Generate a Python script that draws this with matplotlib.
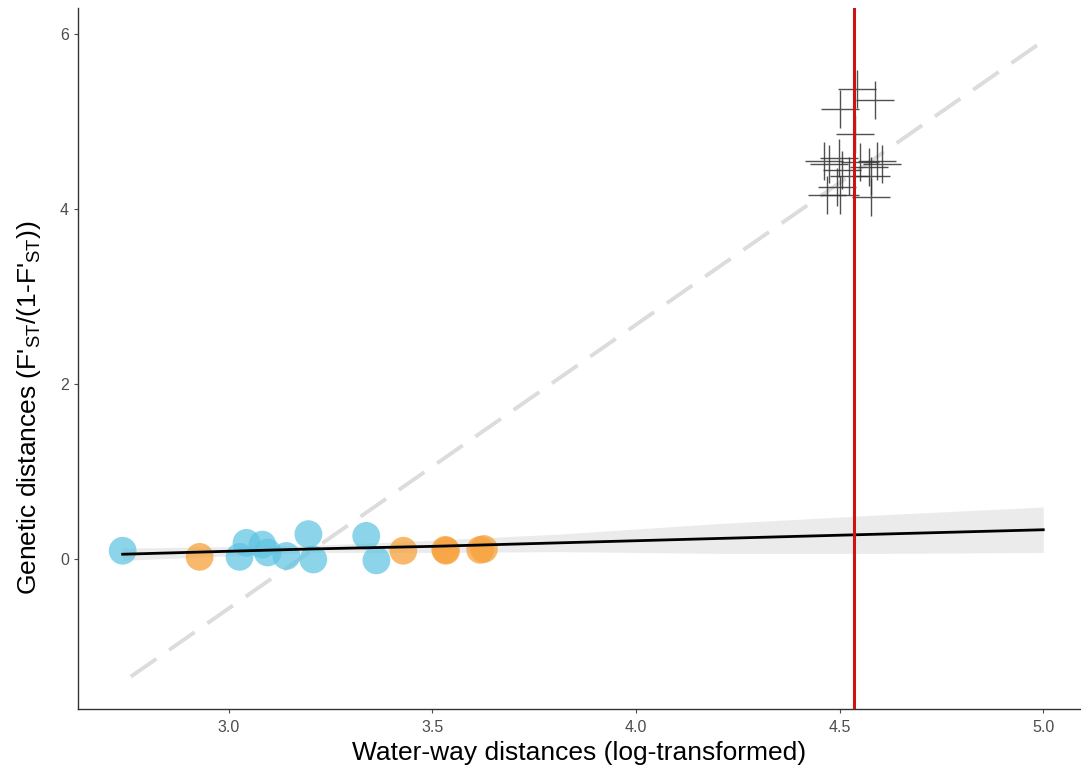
import matplotlib
matplotlib.use('Agg')
import matplotlib.pyplot as plt

plt.rcParams['font.family'] = ['Liberation Sans', 'DejaVu Sans']
plt.rcParams['mathtext.default'] = 'regular'

# ── Data ──────────────────────────────────────────────────────────────────────
blue_x = [2.740, 3.044, 3.083, 3.027, 3.096, 3.142, 3.196, 3.208, 3.338, 3.363]
blue_y = [0.09, 0.18, 0.16, 0.02, 0.07, 0.03, 0.28, -0.01, 0.26, -0.02]

orange_x = [2.929, 3.429, 3.532, 3.534, 3.618, 3.627]
orange_y = [0.02, 0.09, 0.10, 0.09, 0.10, 0.11]

cross_x = [4.542, 4.502, 4.588, 4.539, 4.461, 4.473, 4.498, 4.507, 4.551,
           4.571, 4.591, 4.605, 4.576, 4.493, 4.468, 4.502, 4.578, 4.522]
cross_y = [5.37, 5.14, 5.24, 4.86, 4.55, 4.51, 4.58, 4.44, 4.54,
           4.48, 4.55, 4.51, 4.37, 4.25, 4.16, 4.16, 4.14, 4.37]

fit_x  = [2.74, 3.20, 3.50, 3.81, 4.20, 4.60, 5.00]
fit_y  = [0.05, 0.11, 0.14, 0.18, 0.23, 0.28, 0.33]
band_lo = [-0.02, 0.07, 0.07, 0.08, 0.06, 0.06, 0.07]
band_hi = [0.12, 0.15, 0.21, 0.28, 0.40, 0.50, 0.59]

dash_x = [2.76, 5.00]
dash_y = [-1.35, 5.92]

red_x = 4.535

# ── Figure ────────────────────────────────────────────────────────────────────
fig = plt.figure(figsize=(10.81, 7.69), dpi=100)
ax = fig.add_axes([0.072, 0.078, 0.927, 0.912])

ax.plot(dash_x, dash_y, color='#dcdcdc', linewidth=2.8, dashes=(8, 4), zorder=1)

ax.scatter(blue_x, blue_y, s=400, color='#5ec4e2', alpha=0.72,
           edgecolors='none', zorder=3)
ax.scatter(orange_x, orange_y, s=400, color='#f8a23c', alpha=0.75,
           edgecolors='none', zorder=3)

ax.fill_between(fit_x, band_lo, band_hi, color='#c8c8c8', alpha=0.35,
                linewidth=0, zorder=2)
ax.plot(fit_x, fit_y, color='black', linewidth=2.0, zorder=4)

ax.plot(cross_x, cross_y, linestyle='none', marker='+', markersize=27,
        markeredgewidth=1.0, color='#333333', alpha=0.85, zorder=5)

ax.axvline(red_x, color='#cc1414', linewidth=2.2, zorder=6)

ax.set_xlim(2.63, 5.09)
ax.set_ylim(-1.72, 6.3)
ax.set_xticks([3.0, 3.5, 4.0, 4.5, 5.0])
ax.set_xticklabels(['3.0', '3.5', '4.0', '4.5', '5.0'])
ax.set_yticks([0, 2, 4, 6])

for side in ['top', 'right']:
    ax.spines[side].set_visible(False)
for side in ['left', 'bottom']:
    ax.spines[side].set_color('#333333')
    ax.spines[side].set_linewidth(1.0)
ax.tick_params(colors='#4d4d4d', labelsize=11.5, length=3, width=0.8)
ax.tick_params(axis='x', pad=5)

ax.set_xlabel('Water-way distances (log-transformed)', fontsize=19)
ax.set_ylabel("Genetic distances (F$'_{ST}$/(1-F$'_{ST}$))", fontsize=19)
ax.xaxis.set_label_coords(0.5, -0.045)
ax.yaxis.set_label_coords(-0.035, 0.43)

plt.savefig('out.png', dpi=100)
plt.close()
